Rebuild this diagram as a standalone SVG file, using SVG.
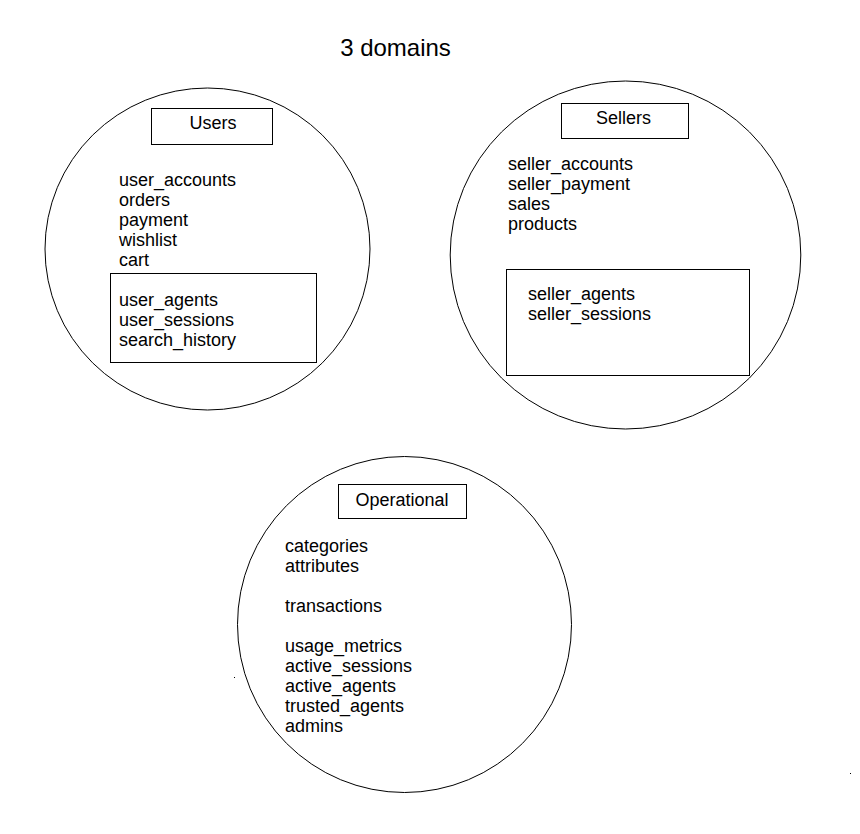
<svg xmlns="http://www.w3.org/2000/svg" width="860" height="834" viewBox="0 0 860 834">
<style>
.sh{fill:none;stroke:#000;stroke-width:1}
text{font-family:"Liberation Sans",Arial,sans-serif;font-size:18px;fill:#000}
.c{text-anchor:middle}
</style>
<rect width="860" height="834" fill="#fff"/>
<text id="title" x="395.5" y="56" class="c" style="font-size:24px">3 domains</text>
<g id="users">
<ellipse class="sh" cx="207.5" cy="249" rx="162.5" ry="161"/>
<rect class="sh" x="151.5" y="108.5" width="121" height="36"/>
<text x="213" y="129" class="c">Users</text>
<text x="119" y="186">user_accounts</text>
<text x="119" y="206">orders</text>
<text x="119" y="226">payment</text>
<text x="119" y="246">wishlist</text>
<text x="119" y="266">cart</text>
<rect class="sh" x="110.5" y="273.5" width="206" height="89"/>
<text x="119" y="306">user_agents</text>
<text x="119" y="326">user_sessions</text>
<text x="119" y="346">search_history</text>
</g>
<g id="sellers">
<ellipse class="sh" cx="625.5" cy="255" rx="175.3" ry="174"/>
<rect class="sh" x="561.5" y="103.5" width="127" height="35"/>
<text x="623.5" y="124.3" class="c">Sellers</text>
<text x="508" y="170">seller_accounts</text>
<text x="508" y="190">seller_payment</text>
<text x="508" y="210">sales</text>
<text x="508" y="230">products</text>
<rect class="sh" x="506.5" y="269.5" width="243" height="106"/>
<text x="528" y="300">seller_agents</text>
<text x="528" y="320">seller_sessions</text>
</g>
<g id="operational">
<ellipse class="sh" cx="404.5" cy="624.5" rx="167" ry="168"/>
<rect class="sh" x="338.5" y="484.5" width="128" height="34"/>
<text x="402" y="506" class="c">Operational</text>
<text x="285" y="552">categories</text>
<text x="285" y="572">attributes</text>
<text x="285" y="612">transactions</text>
<text x="285" y="652">usage_metrics</text>
<text x="285" y="672">active_sessions</text>
<text x="285" y="692">active_agents</text>
<text x="285" y="712">trusted_agents</text>
<text x="285" y="732">admins</text>
</g>
<g id="connectors"></g>
<rect x="234" y="677" width="1" height="1" fill="#000"/>
<rect x="850" y="773" width="1" height="1" fill="#000"/>
</svg>
